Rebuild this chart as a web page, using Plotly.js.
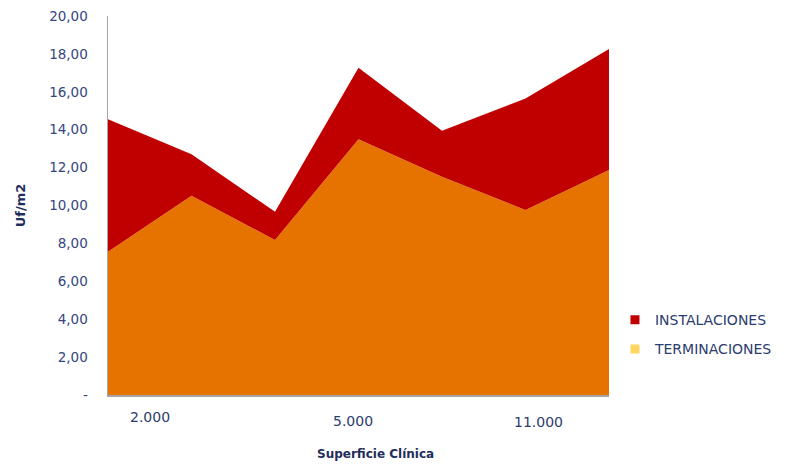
<!DOCTYPE html>
<html>
<head>
<meta charset="utf-8">
<script src="https://cdn.plot.ly/plotly-3.0.1.min.js"></script>
<style>
html,body{margin:0;padding:0;background:#fff;}
#chart{width:785px;height:464px;}
</style>
</head>
<body>
<div id="chart"></div>
<script>
// Data (Uf/m2) per point along "Superficie Clínica"
var points = [0, 1, 2, 3, 4, 5, 6];
var terminaciones = [7.56, 10.52, 8.18, 13.49, 11.52, 9.76, 11.87];
var instalaciones = [6.99, 2.18, 1.49, 3.78, 2.43, 5.89, 6.39];
var xLabels = ['2.000', '5.000', '11.000'];
var xLabelAt = [0.5, 2.93, 5.15];
var yTicks = [0, 2, 4, 6, 8, 10, 12, 14, 16, 18, 20];

var yTickText = yTicks.map(function (v) {
  return v === 0 ? '-' : v.toFixed(2).replace('.', ',');
});

var traces = [
  {
    x: points, y: terminaciones, name: 'TERMINACIONES',
    type: 'scatter', mode: 'lines', stackgroup: 'one',
    line: {width: 0, color: '#E67300'}, fillcolor: '#E67300',
    showlegend: false, hoverinfo: 'skip'
  },
  {
    x: points, y: instalaciones, name: 'INSTALACIONES',
    type: 'scatter', mode: 'lines', stackgroup: 'one',
    line: {width: 0, color: '#C00000'}, fillcolor: '#C00000',
    showlegend: false, hoverinfo: 'skip'
  },
  {
    x: [null], y: [null], name: 'INSTALACIONES', type: 'scatter', mode: 'markers',
    marker: {symbol: 'square', size: 9, color: '#C00000'},
    legendgroup: 'a', showlegend: true
  },
  {
    x: [null], y: [null], name: 'TERMINACIONES', type: 'scatter', mode: 'markers',
    marker: {symbol: 'square', size: 9, color: '#FFD75E'},
    legendgroup: 'b', showlegend: true
  }
];

var yShifts = [0, -4, -5];
var annotations = xLabels.map(function (t, i) {
  return {
    x: xLabelAt[i], xref: 'x', y: 0, yref: 'y', yanchor: 'top',
    yshift: -12 + yShifts[i], text: t, showarrow: false,
    font: {family: 'DejaVu Sans, Verdana, sans-serif', size: 14, color: '#2B3C6E'}
  };
});
annotations.push({
  x: 0.533, xref: 'paper', y: 0, yref: 'paper', yanchor: 'middle',
  yshift: -59, text: '<b>Superficie Clínica</b>', showarrow: false,
  font: {family: 'DejaVu Sans, Verdana, sans-serif', size: 12, color: '#1F2D5C'}
});

var layout = {
  width: 785, height: 464,
  margin: {l: 108, r: 176, t: 16, b: 69},
  paper_bgcolor: '#ffffff', plot_bgcolor: '#ffffff',
  font: {family: 'DejaVu Sans, Verdana, sans-serif', color: '#2B3C6E'},
  xaxis: {
    range: [0, 6], showgrid: false, zeroline: false,
    showline: true, linecolor: '#A6A6A6', linewidth: 1.5,
    showticklabels: false, ticks: ''
  },
  yaxis: {
    range: [0, 20], tickvals: yTicks, ticktext: yTickText,
    showgrid: false, zeroline: false,
    showline: true, linecolor: '#A6A6A6', linewidth: 1.5,
    ticks: '', ticklabelstandoff: 16,
    tickfont: {size: 13.5, color: '#34467E'},
    title: {text: '<b>Uf/m2</b>', standoff: 20, font: {size: 13, color: '#1F2D5C'}}
  },
  showlegend: true,
  legend: {
    xref: 'container', yref: 'container',
    x: 0.7834, xanchor: 'left', y: 0.213, yanchor: 'bottom',
    traceorder: 'grouped', tracegroupgap: 8,
    font: {size: 14, color: '#2B3C6E'}, bgcolor: 'rgba(0,0,0,0)'
  },
  annotations: annotations
};

Plotly.newPlot('chart', traces, layout, {displayModeBar: false, staticPlot: true});
</script>
</body>
</html>
